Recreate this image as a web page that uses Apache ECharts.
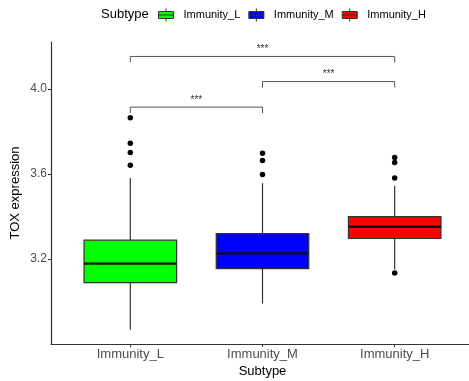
<!DOCTYPE html>
<html>
<head>
<meta charset="utf-8">
<script src="https://cdn.jsdelivr.net/npm/echarts@6/dist/echarts.min.js"></script>
<style>html,body{margin:0;padding:0;background:#fff;}#c{width:469px;height:381px;}</style>
</head>
<body>
<div id="c"></div>
<script>
const categories = ['Immunity_L', 'Immunity_M', 'Immunity_H'];
const colors = ['#00FF00', '#0000FF', '#FF0000'];
const lowerWhisker = [2.867, 2.990, 3.150];
const q1 = [3.089, 3.154, 3.296];
const median = [3.178, 3.226, 3.351];
const q3 = [3.288, 3.319, 3.399];
const upperWhisker = [3.580, 3.556, 3.544];
const outliersL = [3.864, 3.744, 3.700, 3.641];
const outliersM = [3.697, 3.663, 3.597];
const outliersH = [3.677, 3.653, 3.581, 3.134];
const comparisons = [
  [1, 2, 3.914, '***'],
  [2, 3, 4.034, '***'],
  [1, 3, 4.152, '***']
];
const yTicks = [3.2, 3.6, 4.0];

const outlierLists = [outliersL, outliersM, outliersH];
const outlierPoints = [];
outlierLists.forEach((list, i) => list.forEach(v => outlierPoints.push([i + 1, v])));

function renderBox(params, api) {
  const x = api.value(0);
  const half = api.size([0.35, 0])[0];
  const c = v => api.coord([x, v]);
  const lo = c(api.value(1)), b1 = c(api.value(2)), md = c(api.value(3)), b3 = c(api.value(4)), hi = c(api.value(5));
  const fill = api.visual('color');
  return {
    type: 'group',
    children: [
      { type: 'line', shape: { x1: lo[0], y1: lo[1], x2: b1[0], y2: b1[1] }, style: { stroke: '#333', lineWidth: 1.2 } },
      { type: 'line', shape: { x1: b3[0], y1: b3[1], x2: hi[0], y2: hi[1] }, style: { stroke: '#333', lineWidth: 1.2 } },
      { type: 'rect', shape: { x: b3[0] - half, y: b3[1], width: 2 * half, height: b1[1] - b3[1] }, style: { fill: fill, stroke: '#333', lineWidth: 1.2 } },
      { type: 'line', shape: { x1: md[0] - half, y1: md[1], x2: md[0] + half, y2: md[1] }, style: { stroke: '#111', lineWidth: 2.4 } }
    ]
  };
}

function renderBracket(params, api) {
  const a = api.coord([api.value(0), api.value(2)]);
  const b = api.coord([api.value(1), api.value(2)]);
  const label = comparisons[params.dataIndex][3];
  const drop = 6;
  return {
    type: 'group',
    children: [
      { type: 'polyline', shape: { points: [[a[0], a[1] + drop], [a[0], a[1]], [b[0], b[1]], [b[0], b[1] + drop]] }, style: { stroke: '#555', lineWidth: 1, fill: null } },
      { type: 'text', style: { text: label, x: (a[0] + b[0]) / 2, y: a[1] - 2, align: 'center', verticalAlign: 'bottom', fontSize: 10, fill: '#333', fontFamily: 'Liberation Sans, Arial, sans-serif' } }
    ]
  };
}

const boxSeries = categories.map((name, i) => ({
  name: name,
  type: 'custom',
  renderItem: renderBox,
  itemStyle: { color: colors[i], borderColor: '#333' },
  encode: { x: 0, y: [1, 2, 3, 4, 5] },
  data: [[i + 1, lowerWhisker[i], q1[i], median[i], q3[i], upperWhisker[i]]],
  z: 2
}));

const chart = echarts.init(document.getElementById('c'), null, { renderer: 'canvas' });
const font = 'Liberation Sans, Arial, sans-serif';
chart.setOption({
  animation: false,
  backgroundColor: '#fff',
  textStyle: { fontFamily: font },
  title: {
    text: 'Subtype',
    left: 101,
    top: 8,
    padding: 0,
    textStyle: { fontSize: 13, fontWeight: 'normal', color: '#000', fontFamily: font }
  },
  legend: {
    data: categories,
    left: 158,
    top: 8,
    padding: 0,
    itemWidth: 15,
    itemHeight: 13,
    itemGap: 8,
    icon: 'path://M7.5,0V3M0,3H15V10H0ZM0,6.5H15M7.5,10V13',
    itemStyle: { borderColor: '#333', borderWidth: 1 },
    textStyle: { fontSize: 11, color: '#000', fontFamily: font, padding: [0, 0, 0, 5] }
  },
  grid: { left: 51, right: -5, top: 42, bottom: 37, containLabel: false, outerBoundsMode: 'none' },
  xAxis: {
    type: 'value',
    min: 0.4,
    max: 3.6,
    name: 'Subtype',
    nameLocation: 'middle',
    nameGap: 21,
    nameMoveOverlap: false,
    nameTextStyle: { fontSize: 13, color: '#000', fontFamily: font },
    splitLine: { show: false },
    axisLine: { show: true, onZero: false, lineStyle: { color: '#333', width: 1.2 } },
    axisTick: { show: true, length: 3, customValues: [1, 2, 3], lineStyle: { color: '#333' } },
    axisLabel: {
      customValues: [1, 2, 3],
      formatter: v => categories[Math.round(v) - 1] || '',
      fontSize: 13,
      color: '#4d4d4d',
      margin: 4,
      fontFamily: font
    }
  },
  yAxis: {
    type: 'value',
    min: 2.8,
    max: 4.22,
    name: 'TOX expression',
    nameLocation: 'middle',
    nameGap: 29,
    nameMoveOverlap: false,
    nameTextStyle: { fontSize: 13, color: '#000', fontFamily: font },
    splitLine: { show: false },
    axisLine: { show: true, onZero: false, lineStyle: { color: '#333', width: 1.2 } },
    axisTick: { show: true, length: 3, customValues: yTicks, lineStyle: { color: '#333' } },
    axisLabel: {
      customValues: yTicks,
      formatter: v => v.toFixed(1),
      fontSize: 12,
      color: '#4d4d4d',
      margin: 4,
      fontFamily: font
    }
  },
  series: boxSeries.concat([
    {
      name: 'outliers',
      type: 'scatter',
      data: outlierPoints,
      symbolSize: 5.5,
      itemStyle: { color: '#000', opacity: 1 },
      z: 5
    },
    {
      name: 'comparisons',
      type: 'custom',
      renderItem: renderBracket,
      encode: { x: [0, 1], y: 2 },
      data: comparisons.map(c => [c[0], c[1], c[2]]),
      z: 4
    }
  ])
});
</script>
</body>
</html>
